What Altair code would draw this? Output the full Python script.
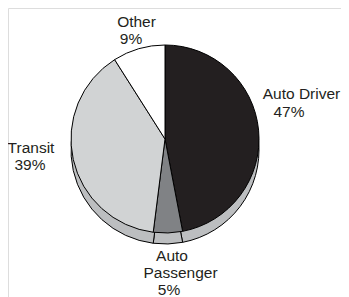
import altair as alt
import pandas as pd

# ---- data ----
categories = ["Auto Driver", "Auto Passenger", "Transit", "Other"]
shares = [47, 5, 39, 9]

# ---- styles / layout ----
slice_colors = ["#231f20", "#808285", "#d1d3d4", "#ffffff"]
side_color = "#bcbec0"
text_color = "#231f20"
W, H = 333, 289
CX, CY = 157, 131
R = 94
DEPTH = 11
FONT_SIZE = 15.5

# label lines: (center x, baseline y) in chart coords
label_name_lines = {
    "Auto Driver": ["Auto Driver"],
    "Auto Passenger": ["Auto", "Passenger"],
    "Transit": ["Transit"],
    "Other": ["Other"],
}
label_line_pos = {
    "Auto Driver": [(293.5, 90.5), (281, 108.5)],
    "Auto Passenger": [(164, 253), (172.5, 270), (161, 286.5)],
    "Transit": [(23, 144.5), (22, 161.5)],
    "Other": [(128.5, 18.5), (123, 35.5)],
}

df = pd.DataFrame({"category": categories, "share": shares, "idx": range(len(categories))})

base = alt.Chart(df).encode(
    theta=alt.Theta("share:Q", stack=True),
    order=alt.Order("idx:Q"),
)

side = base.mark_arc(radius=R, stroke="black", strokeWidth=1, fill=side_color).encode(
    x=alt.value(CX), y=alt.value(CY + DEPTH)
)

top = base.mark_arc(radius=R, stroke="black", strokeWidth=1).encode(
    x=alt.value(CX),
    y=alt.value(CY),
    color=alt.Color(
        "category:N",
        scale=alt.Scale(domain=categories, range=slice_colors),
        legend=None,
    ),
)

layers = [side, top]
for cat, val in zip(categories, shares):
    lines = label_name_lines[cat] + [f"{val}%"]
    for txt, (lx, ly) in zip(lines, label_line_pos[cat]):
        t = alt.Chart(pd.DataFrame({"t": [txt]})).mark_text(
            font="Liberation Sans",
            fontSize=FONT_SIZE,
            align="center",
            baseline="alphabetic",
            color=text_color,
        ).encode(text="t:N", x=alt.value(lx), y=alt.value(ly))
        layers.append(t)

chart = alt.layer(*layers).properties(
    width=W, height=H, autosize="none", padding=0
).configure_view(stroke=None).configure(background="white")

chart.save("out.html", embed_options={"renderer": "svg", "actions": False})
